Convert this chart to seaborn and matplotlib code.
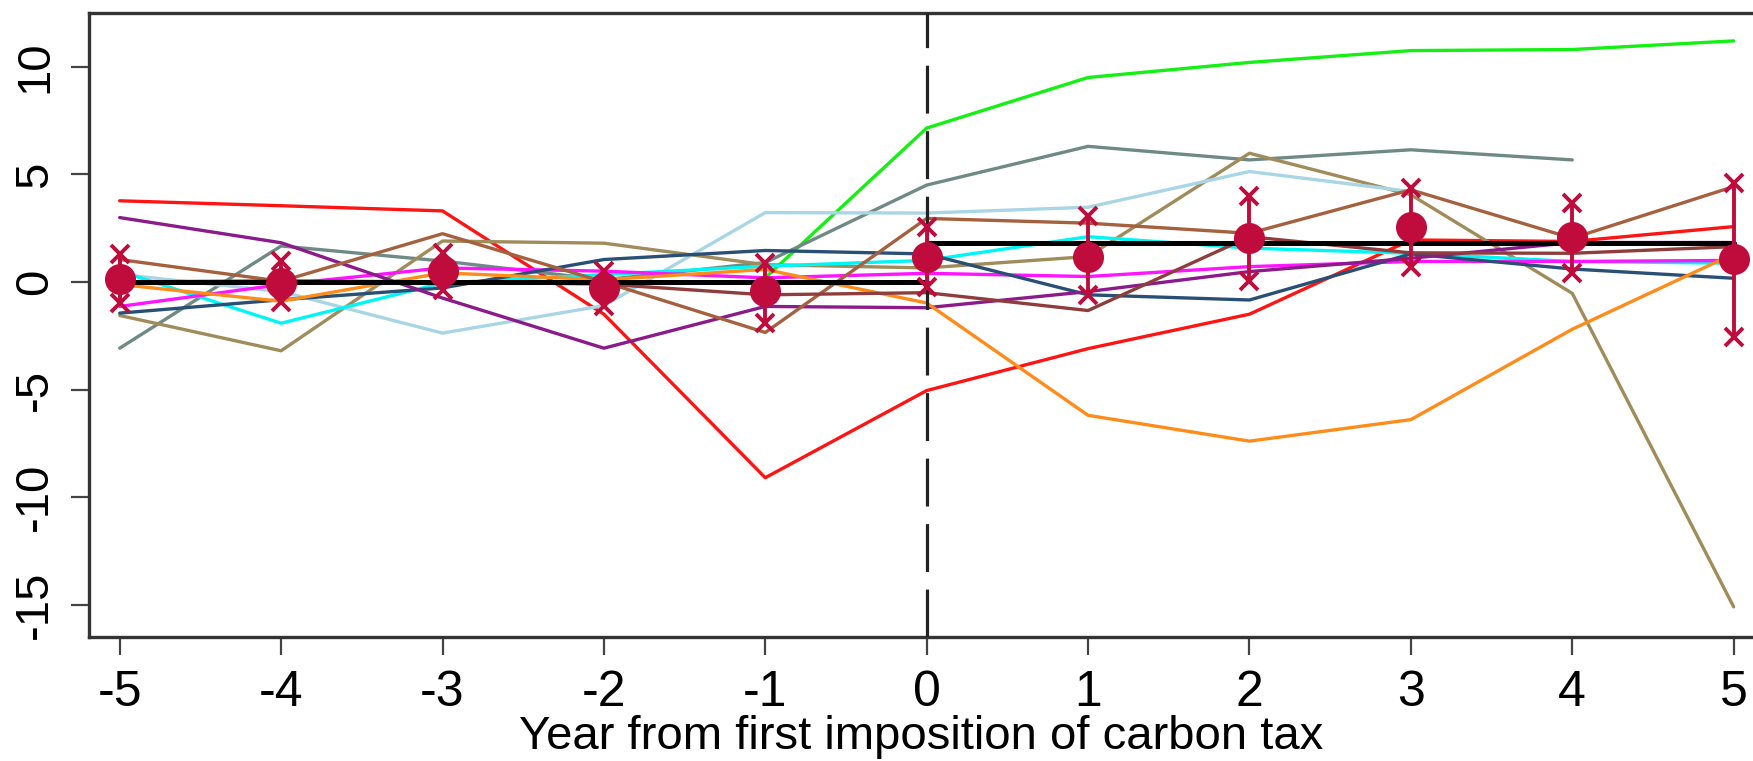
import numpy as np
import pandas as pd
import matplotlib
matplotlib.use("Agg")
import matplotlib.pyplot as plt
import seaborn as sns

# years relative to first carbon tax
years = [-5, -4, -3, -2, -1, 0, 1, 2, 3, 4, 5]
nan = np.nan

# individual country paths
red_line = [3.77, 3.54, 3.30, -1.5, -9.1, -5.05, -3.1, -1.5, 1.95, 1.88, 2.57]
green_line = [nan, nan, nan, nan, 0.19, 7.15, 9.5, 10.2, 10.75, 10.8, 11.2]
gray_line = [-3.08, 1.67, 0.97, 0.1, 0.9, 4.5, 6.3, 5.67, 6.14, 5.67, nan]
khaki_line = [-1.56, -3.2, 1.9, 1.8, 0.8, 0.65, 1.18, 5.98, 4.05, -0.53, -15.1]
lightblue_line = [0.35, -0.45, -2.38, -1.1, 3.22, 3.2, 3.47, 5.13, 4.2, nan, nan]
cyan_line = [0.5, -1.92, -0.05, 0.34, 0.73, 1.0, 2.1, 1.57, 1.33, 0.95, 0.87]
magenta_line = [-1.14, -0.12, 0.65, 0.5, 0.19, 0.4, 0.25, 0.71, 0.95, 0.95, 1.0]
navy_line = [-1.45, -0.83, -0.28, 1.04, 1.46, 1.3, -0.6, -0.84, 1.3, 0.6, 0.17]
purple_line = [2.99, 1.82, -0.75, -3.08, -1.14, -1.2, -0.45, 0.48, 1.1, 1.83, 1.83]
orange_line = [-0.12, -0.9, 0.42, 0.1, 0.58, -0.98, -6.2, -7.4, -6.4, -2.2, 1.3]
sienna_line = [1.04, 0.03, 2.24, 0.0, -2.35, 2.95, 2.73, 2.26, 4.28, 2.03, 4.43]
maroon_line = [0.0, 0.05, 0.0, -0.1, -0.6, -0.5, -1.33, 2.1, 1.35, 1.33, 1.64]

series = {
    "red": (red_line, "#ff1414"),
    "green": (green_line, "#14f014"),
    "gray": (gray_line, "#6f8a84"),
    "khaki": (khaki_line, "#a08c5a"),
    "lightblue": (lightblue_line, "#a9d6e5"),
    "cyan": (cyan_line, "#00f5f5"),
    "magenta": (magenta_line, "#ff14ff"),
    "navy": (navy_line, "#2a4f75"),
    "purple": (purple_line, "#8b1a8b"),
    "orange": (orange_line, "#ff8c1a"),
    "sienna": (sienna_line, "#a5603e"),
    "maroon": (maroon_line, "#8e3c3c"),
}

# pre / post period averages
pre_years = [-5, 0]
pre_mean = [0.0, 0.0]
post_years = [0, 5]
post_mean = [1.8, 1.8]

# pooled estimates with confidence bounds
est = [0.15, -0.05, 0.53, -0.28, -0.44, 1.15, 1.18, 2.03, 2.57, 2.08, 1.05]
ci_low = [-1.0, -0.95, -0.36, -1.1, -1.9, -0.25, -0.6, 0.02, 0.71, 0.4, -2.54]
ci_high = [1.3, 0.95, 1.36, 0.5, 0.9, 2.57, 3.04, 4.0, 4.36, 3.69, 4.59]

rows = []
for name, (vals, _) in series.items():
    for yr, v in zip(years, vals):
        rows.append({"country": name, "year": yr, "value": v})
df = pd.DataFrame(rows).dropna()
palette = {name: col for name, (_, col) in series.items()}

sns.set_theme(style="white")
plt.rcParams["font.family"] = ["Liberation Sans", "DejaVu Sans"]

fig = plt.figure(figsize=(17.53, 7.61), dpi=100)
ax = fig.add_axes([0.0508, 0.163, 0.9492, 0.82])

sns.lineplot(data=df, x="year", y="value", hue="country", palette=palette,
             hue_order=list(series.keys()), estimator=None, linewidth=2.4,
             legend=False, ax=ax)

sns.lineplot(x=pre_years, y=pre_mean, color="black", linewidth=3.6, ax=ax)
sns.lineplot(x=post_years, y=post_mean, color="black", linewidth=3.6, ax=ax)

crim = "#c00c3c"
ax.vlines(years, ci_low, ci_high, color=crim, linewidth=2.8, zorder=5)
ax.plot(years, ci_low, "x", color=crim, markersize=13, mew=2.8, zorder=5)
ax.plot(years, ci_high, "x", color=crim, markersize=13, mew=2.8, zorder=5)
sns.scatterplot(x=years, y=est, color=crim, s=500, edgecolor=crim,
                linewidth=0, zorder=6, ax=ax)

ax.axvline(0, color="#222222", linewidth=2.3, dashes=(15, 5.5), zorder=4)

ax.set_xlim(-5.19, 5.12)
ax.set_ylim(-16.5, 12.5)
ax.set_xticks(years)
ax.set_xticklabels([str(y) for y in years])
ax.set_yticks([-15, -10, -5, 0, 5, 10])
ax.set_yticklabels(["-15", "-10", "-5", "0", "5", "10"], rotation=90, va="center")

for side in ["left", "bottom", "top"]:
    ax.spines[side].set_color("#333333")
    ax.spines[side].set_linewidth(2.4)
ax.spines["right"].set_visible(False)

ax.tick_params(axis="both", direction="out", length=13, width=1.6,
               color="#444444", labelcolor="black")
ax.tick_params(axis="x", pad=11, labelsize=36, bottom=True)
ax.tick_params(axis="y", pad=10, labelsize=34, left=True)

ax.set_xlabel("Year from first imposition of carbon tax", fontsize=34,
              labelpad=-1, color="black")
ax.set_ylabel("")

fig.savefig("out.png", dpi=100)
